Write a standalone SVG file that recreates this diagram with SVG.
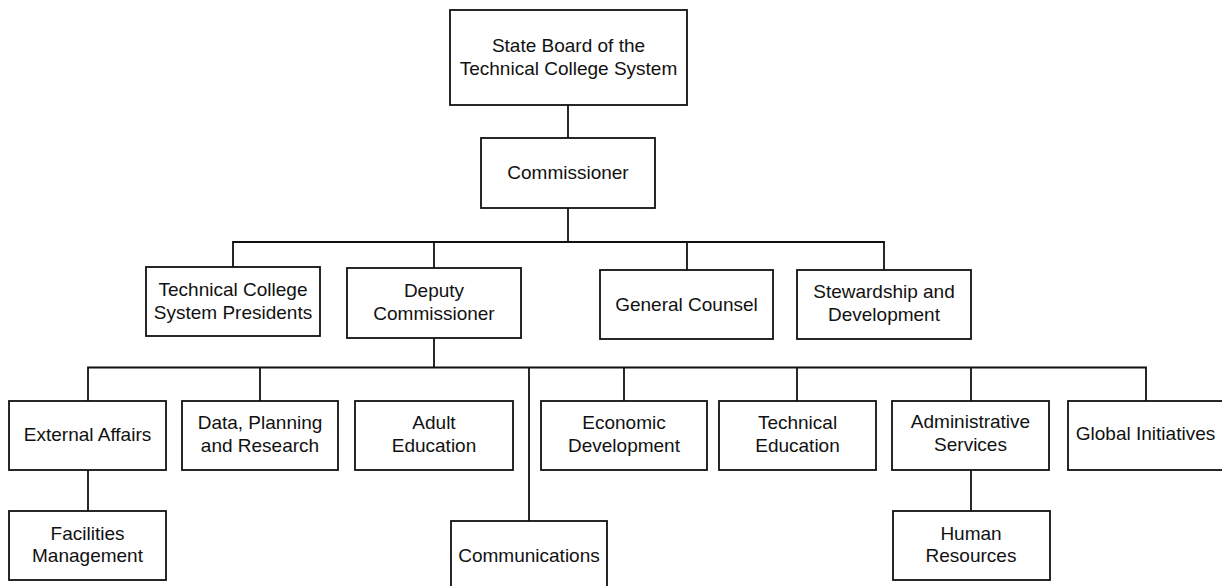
<svg xmlns="http://www.w3.org/2000/svg" width="1222" height="586" viewBox="0 0 1222 586">
<style>
.box{fill:#fff;stroke:#111;stroke-width:1.8}
.ln{fill:none;stroke:#111;stroke-width:1.8}
text{font-family:"Liberation Sans",Arial,sans-serif;font-size:19px;fill:#111;text-anchor:middle}
</style>
<rect width="1222" height="586" fill="#fff"/>
<g id="connectors">
<path class="ln" d="M568 105V138"/>
<path class="ln" d="M568 208V242"/>
<path class="ln" d="M233 267V242H884V270"/>
<path class="ln" d="M434 242V268"/>
<path class="ln" d="M687 242V270"/>
<path class="ln" d="M434 338V367.5"/>
<path class="ln" d="M88 401V367.5H1146V401"/>
<path class="ln" d="M260 367.5V401"/>
<path class="ln" d="M529 367.5V521"/>
<path class="ln" d="M624 367.5V401"/>
<path class="ln" d="M797 367.5V401"/>
<path class="ln" d="M971 367.5V401"/>
<path class="ln" d="M88 470V511"/>
<path class="ln" d="M971 470V511"/>
</g>
<g id="state-board"><rect class="box" x="450" y="10" width="237" height="95"/><text x="568.5" y="52">State Board of the</text><text x="568.5" y="75">Technical College System</text></g>
<g id="commissioner"><rect class="box" x="481" y="138" width="174" height="70"/><text x="568" y="179">Commissioner</text></g>
<g id="presidents"><rect class="box" x="146" y="267" width="174" height="69"/><text x="233" y="296">Technical College</text><text x="233" y="318.5">System Presidents</text></g>
<g id="deputy"><rect class="box" x="347" y="268" width="174" height="70"/><text x="434" y="297">Deputy</text><text x="434" y="320">Commissioner</text></g>
<g id="general-counsel"><rect class="box" x="600" y="270" width="173" height="69"/><text x="686.5" y="311">General Counsel</text></g>
<g id="stewardship"><rect class="box" x="797" y="270" width="174" height="69"/><text x="884" y="298">Stewardship and</text><text x="884" y="321">Development</text></g>
<g id="external-affairs"><rect class="box" x="9" y="401" width="157" height="69"/><text x="87.5" y="441">External Affairs</text></g>
<g id="data-planning"><rect class="box" x="182" y="401" width="156" height="69"/><text x="260" y="429">Data, Planning</text><text x="260" y="452">and Research</text></g>
<g id="adult-education"><rect class="box" x="355" y="401" width="158" height="69"/><text x="434" y="429">Adult</text><text x="434" y="452">Education</text></g>
<g id="economic-development"><rect class="box" x="541" y="401" width="166" height="69"/><text x="624" y="428.5">Economic</text><text x="624" y="451.5">Development</text></g>
<g id="technical-education"><rect class="box" x="719" y="401" width="157" height="69"/><text x="797.5" y="428.5">Technical</text><text x="797.5" y="451.5">Education</text></g>
<g id="administrative-services"><rect class="box" x="892" y="401" width="157" height="69"/><text x="970.5" y="428">Administrative</text><text x="970.5" y="450.5">Services</text></g>
<g id="global-initiatives"><rect class="box" x="1068" y="401" width="157" height="69"/><text x="1145.5" y="440">Global Initiatives</text></g>
<g id="facilities"><rect class="box" x="9" y="511" width="157" height="69"/><text x="87.5" y="540">Facilities</text><text x="87.5" y="562">Management</text></g>
<g id="communications"><rect class="box" x="451" y="521" width="156" height="72"/><text x="529" y="562">Communications</text></g>
<g id="human-resources"><rect class="box" x="893" y="511" width="157" height="69"/><text x="971" y="540">Human</text><text x="971" y="562">Resources</text></g>
</svg>
